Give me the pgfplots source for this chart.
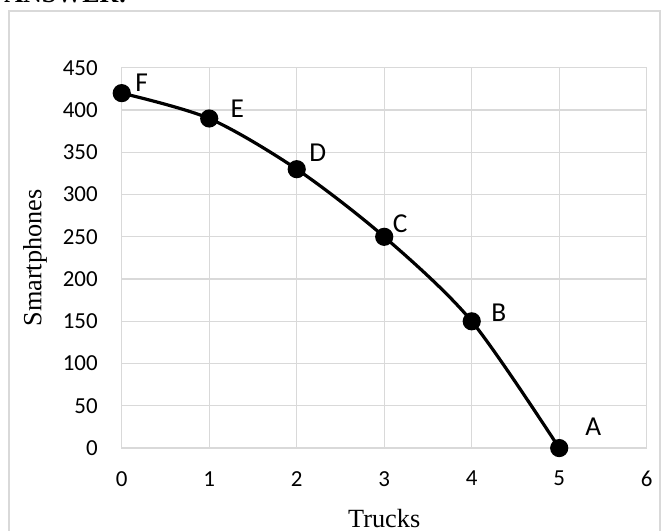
\documentclass[border=0pt]{standalone}
\usepackage{fontspec}
\setmainfont{Carlito}
\newfontfamily\timesf{Liberation Serif}
\usepackage{pgfplots}
\pgfplotsset{compat=1.18}
\definecolor{gridgray}{RGB}{217,217,217}

\begin{document}
\begin{tikzpicture}
\path[use as bounding box] (0,0) rectangle (496.5pt,398.25pt);
\node[anchor=base west, inner sep=0pt, font=\timesf\bfseries\fontsize{19.5}{22}\selectfont] at (3pt,396pt) {ANSWER:};
\draw[gridgray, line width=1.2pt] (6.75pt,-10pt) rectangle (495pt,390pt);
\begin{axis}[
    at={(91.3pt,62.2pt)}, anchor=south west,
    scale only axis,
    width=393.75pt, height=285.2pt,
    xmin=0, xmax=6, ymin=0, ymax=450,
    xtick={0,1,2,3,4,5,6},
    ytick={0,50,100,150,200,250,300,350,400,450},
    /pgf/number format/assume math mode=true,
    grid=major,
    major grid style={gridgray, line width=1pt},
    axis line style={gridgray, line width=1pt},
    major tick length=0pt,
    tick style={draw=none},
    ticklabel style={font=\fontsize{17.2}{20}\selectfont, inner sep=0pt},
    yticklabel style={xshift=-17.8pt},
    xticklabel style={yshift=-17.2pt},
    xlabel={Trucks},
    ylabel={Smartphones},
    x label style={at={(axis description cs:0.5,-0.2077)}, anchor=base, font=\timesf\fontsize{19.7}{22}\selectfont},
    y label style={at={(axis description cs:-0.165,0.5)}, anchor=center, font=\timesf\fontsize{19.7}{22}\selectfont},
    clip=false,
]
\addplot[black, line width=2.4pt, smooth, mark=*, mark size=5.6pt, mark options={solid}] coordinates {
    (0,420) (1,390) (2,330) (3,250) (4,150) (5,0)
};
\begin{scope}[every node/.style={font=\fontsize{20.5}{24}\selectfont, inner sep=0pt}]
\node[xshift=15pt, yshift=7.5pt] at (axis cs:0,420) {F};
\node[xshift=21pt, yshift=7.5pt] at (axis cs:1,390) {E};
\node[xshift=15.75pt, yshift=12pt] at (axis cs:2,330) {D};
\node[xshift=12pt, yshift=9.75pt] at (axis cs:3,250) {C};
\node[xshift=20.25pt, yshift=6.75pt] at (axis cs:4,150) {B};
\node[xshift=25.5pt, yshift=15.75pt] at (axis cs:5,0) {A};
\end{scope}
\end{axis}
\end{tikzpicture}
\end{document}
